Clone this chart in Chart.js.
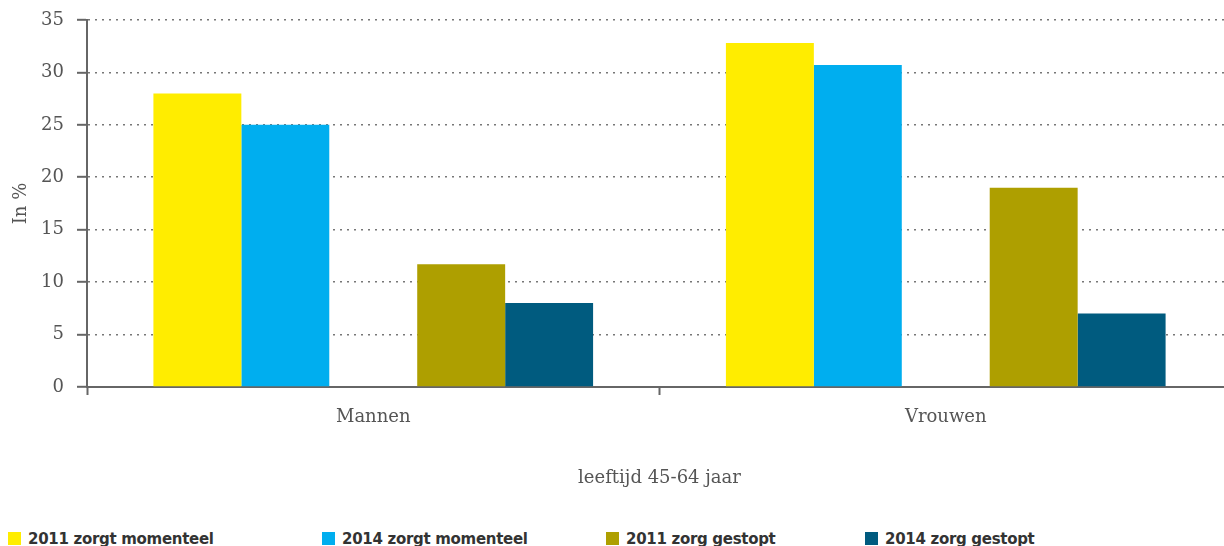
<!DOCTYPE html>
<html>
<head>
<meta charset="utf-8">
<script src="https://cdn.jsdelivr.net/npm/chart.js@4"></script>
<style>
    body { margin: 0; background: #fff; width: 1224px; height: 546px; overflow: hidden; position: relative; }
    #chartBox { position: absolute; left: 0; top: 0; }
    .legend-item { position: absolute; top: 530px; font-family: "DejaVu Sans", sans-serif; font-weight: bold; font-size: 15px; letter-spacing: -0.3px; color: #333; white-space: nowrap; line-height: 18px; }
    .legend-item span.box { display: inline-block; width: 13px; height: 13px; margin-right: 7px; vertical-align: -1px; }
</style>
</head>
<body>
<div id="chartBox"><canvas id="chart" width="1232" height="493"></canvas></div>
<div id="legend"></div>
<script>
// Data
const categories = ['Mannen', 'Vrouwen'];
const seriesNames = ['2011 zorgt momenteel', '2014 zorgt momenteel', '2011 zorg gestopt', '2014 zorg gestopt'];
const zorgt2011 = [28, 32.8];
const zorgt2014 = [25, 30.7];
const gestopt2011 = [11.7, 19];
const gestopt2014 = [8, 7];
const seriesColors = ['#FFED00', '#00AEEF', '#AE9F00', '#005B7F'];
const legendLeft = [8, 322, 606, 865];

const axisColor = '#666';
const textColor = '#555';
const axisFont = { family: '"DejaVu Serif", serif', size: 18 };

// an empty series sits between the two pairs to make the gap
const datasets = [
    { label: seriesNames[0], data: zorgt2011, backgroundColor: seriesColors[0] },
    { label: seriesNames[1], data: zorgt2014, backgroundColor: seriesColors[1] },
    { label: '', data: [null, null], backgroundColor: 'rgba(0,0,0,0)' },
    { label: seriesNames[2], data: gestopt2011, backgroundColor: seriesColors[2] },
    { label: seriesNames[3], data: gestopt2014, backgroundColor: seriesColors[3] }
];

// the canvas is a bit wider than the page: the plot runs past the right edge
new Chart(document.getElementById('chart'), {
    type: 'bar',
    data: { labels: categories, datasets: datasets },
    options: {
        responsive: false,
        animation: false,
        layout: { padding: { top: 20, right: 0, left: 0, bottom: 0 } },
        datasets: { bar: { barPercentage: 1, categoryPercentage: 0.768 } },
        plugins: {
            legend: { display: false },
            tooltip: { enabled: false }
        },
        scales: {
            x: {
                afterFit: function(scale) { scale.height = 106; },
                grid: { drawOnChartArea: false, drawTicks: true, tickLength: 8, tickColor: axisColor, tickWidth: 2 },
                border: { color: axisColor, width: 2 },
                ticks: { color: textColor, font: axisFont, padding: 12 },
                title: { display: true, text: 'leeftijd 45-64 jaar', color: textColor, font: axisFont, padding: { top: 38, bottom: 4 } }
            },
            y: {
                min: 0,
                max: 35,
                afterFit: function(scale) {
                    scale.width = 87;
                    scale.paddingTop = 0;
                    scale.paddingBottom = 0;
                },
                grid: { color: '#777', lineWidth: 1.6, tickLength: 10, tickColor: axisColor, tickWidth: 2, tickBorderDash: [] },
                border: { color: axisColor, width: 2, dash: [2, 5] },
                ticks: { stepSize: 5, color: textColor, font: axisFont, padding: 13 },
                title: { display: true, text: 'In %', color: textColor, font: axisFont, padding: { top: 11, bottom: 0 } }
            }
        }
    }
});

// HTML legend along the bottom
const legend = document.getElementById('legend');
seriesNames.forEach(function(name, i) {
    const item = document.createElement('div');
    item.className = 'legend-item';
    item.style.left = legendLeft[i] + 'px';
    item.innerHTML = '<span class="box" style="background:' + seriesColors[i] + '"></span>' + name;
    legend.appendChild(item);
});
</script>
</body>
</html>
